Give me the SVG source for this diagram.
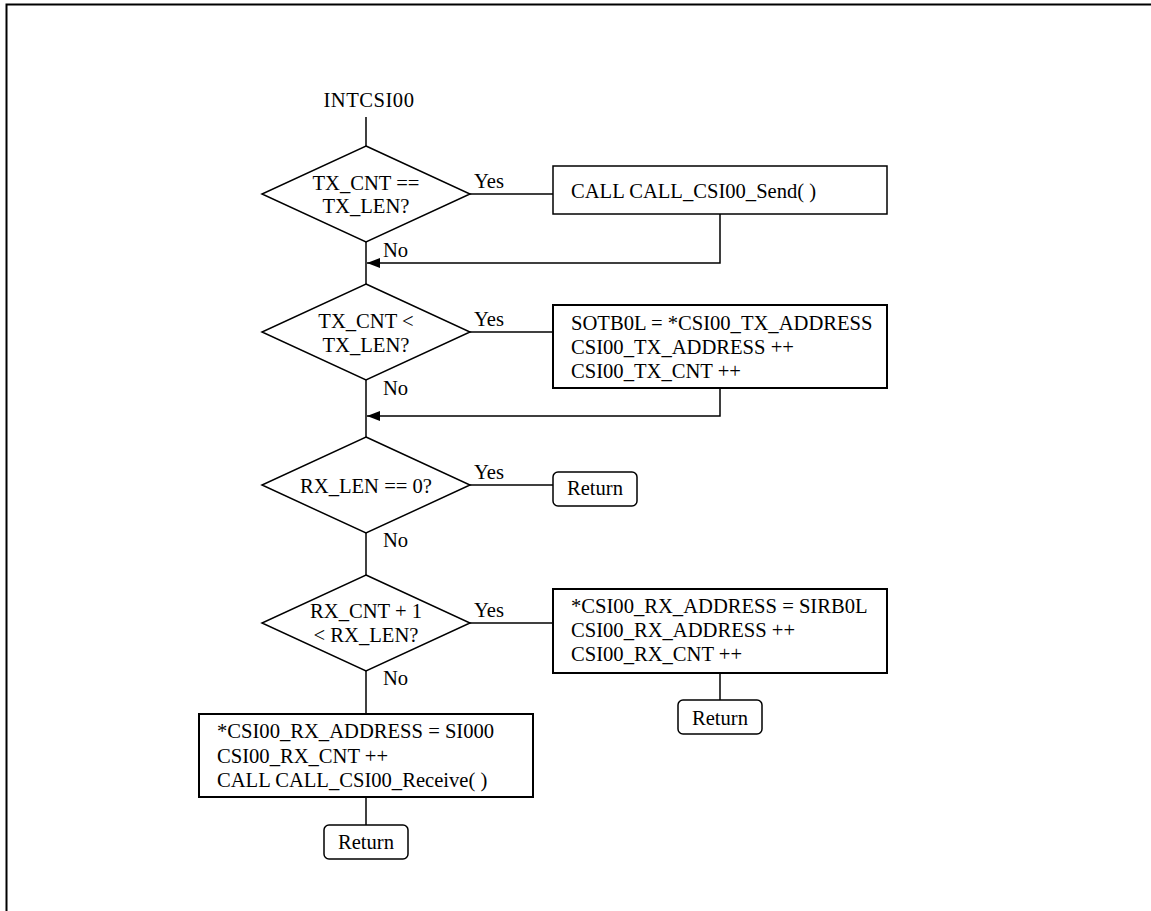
<svg xmlns="http://www.w3.org/2000/svg" width="1151" height="911" viewBox="0 0 1151 911">
  <style>
    text { font-family: "Liberation Serif", "Times New Roman", serif; font-size: 20.6px; fill: #000; }
    .mid { text-anchor: middle; }
    .shape { fill: #fff; stroke: #000; stroke-width: 1.5; }
    .box { fill: #fff; stroke: #000; stroke-width: 2; }
    .wire { fill: none; stroke: #000; stroke-width: 1.5; }
  </style>
  <defs>
    <marker id="arrow" markerWidth="13" markerHeight="10" refX="13" refY="5" orient="auto" markerUnits="userSpaceOnUse">
      <path d="M0,0 L13,5 L0,10 Z" fill="#000"/>
    </marker>
  </defs>

  <rect width="1151" height="911" fill="#fff"/>
  <!-- page frame: top and left edges -->
  <path d="M6.5,911 V4.5 H1151" fill="none" stroke="#000" stroke-width="2"/>

  <!-- connectors -->
  <g id="connectors">
    <path class="wire" d="M366,117 V146"/>
    <path class="wire" d="M366,242 V284"/>
    <path class="wire" d="M366,380 V437"/>
    <path class="wire" d="M366,533 V575"/>
    <path class="wire" d="M366,671 V714"/>
    <path class="wire" d="M366,797 V825"/>
    <path class="wire" d="M470,194 H553"/>
    <path class="wire" d="M470,332 H553"/>
    <path class="wire" d="M470,485 H553"/>
    <path class="wire" d="M470,623 H553"/>
    <path class="wire" d="M720,214 V263 H367" marker-end="url(#arrow)"/>
    <path class="wire" d="M720,388 V416 H367" marker-end="url(#arrow)"/>
    <path class="wire" d="M720,673 V700"/>
    <text x="474" y="188">Yes</text>
    <text x="383" y="257">No</text>
    <text x="474" y="326">Yes</text>
    <text x="383" y="395">No</text>
    <text x="474" y="479">Yes</text>
    <text x="383" y="547">No</text>
    <text x="474" y="617">Yes</text>
    <text x="383" y="685">No</text>
  </g>

  <g id="start">
    <text class="mid" x="369" y="107" letter-spacing="0.5">INTCSI00</text>
  </g>

  <g id="dec-tx-done">
    <polygon class="shape" points="366,146 470,194 366,242 262,194"/>
    <text class="mid" x="366" y="190">TX_CNT ==</text>
    <text class="mid" x="366" y="213">TX_LEN?</text>
  </g>

  <g id="call-send">
    <rect class="shape" x="553" y="166" width="334" height="48"/>
    <text x="571" y="198">CALL CALL_CSI00_Send( )</text>
  </g>

  <g id="dec-tx-more">
    <polygon class="shape" points="366,284 470,332 366,380 262,332"/>
    <text class="mid" x="366" y="328">TX_CNT &lt;</text>
    <text class="mid" x="366" y="352">TX_LEN?</text>
  </g>

  <g id="tx-next">
    <rect class="box" x="553" y="305" width="334" height="83"/>
    <text x="571" y="330">SOTB0L = *CSI00_TX_ADDRESS</text>
    <text x="571" y="354">CSI00_TX_ADDRESS ++</text>
    <text x="571" y="378">CSI00_TX_CNT ++</text>
  </g>

  <g id="dec-rx-len">
    <polygon class="shape" points="366,437 470,485 366,533 262,485"/>
    <text class="mid" x="366" y="493">RX_LEN == 0?</text>
  </g>

  <g id="return-1">
    <rect class="shape" x="553" y="472" width="84" height="34" rx="5"/>
    <text class="mid" x="595" y="495">Return</text>
  </g>

  <g id="dec-rx-more">
    <polygon class="shape" points="366,575 470,623 366,671 262,623"/>
    <text class="mid" x="366" y="618">RX_CNT + 1</text>
    <text class="mid" x="366" y="642">&lt; RX_LEN?</text>
  </g>

  <g id="rx-next">
    <rect class="box" x="553" y="589" width="334" height="84"/>
    <text x="571" y="613">*CSI00_RX_ADDRESS = SIRB0L</text>
    <text x="571" y="637">CSI00_RX_ADDRESS ++</text>
    <text x="571" y="661">CSI00_RX_CNT ++</text>
  </g>

  <g id="return-2">
    <rect class="shape" x="678" y="700" width="84" height="34" rx="5"/>
    <text class="mid" x="720" y="725">Return</text>
  </g>

  <g id="rx-last">
    <rect class="box" x="199" y="714" width="334" height="83"/>
    <text x="217" y="738">*CSI00_RX_ADDRESS = SI000</text>
    <text x="217" y="763">CSI00_RX_CNT ++</text>
    <text x="217" y="787">CALL CALL_CSI00_Receive( )</text>
  </g>

  <g id="return-3">
    <rect class="shape" x="324" y="825" width="84" height="34" rx="5"/>
    <text class="mid" x="366" y="849">Return</text>
  </g>
</svg>
